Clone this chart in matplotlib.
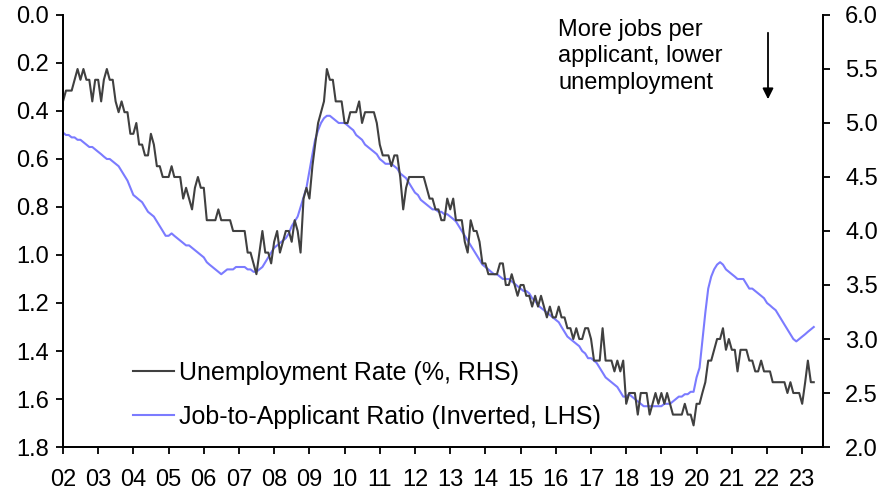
import numpy as np
import pandas as pd
import matplotlib
matplotlib.use("Agg")
import matplotlib.pyplot as plt

plt.rcParams['font.family'] = ['Liberation Sans', 'DejaVu Sans']

# monthly data, Jan 2002 - May 2023
unemployment = [
    5.2, 5.3, 5.3, 5.3, 5.4, 5.5, 5.4, 5.5, 5.4, 5.4, 5.2, 5.4,  # 2002
    5.4, 5.2, 5.4, 5.5, 5.4, 5.4, 5.2, 5.1, 5.2, 5.1, 5.1, 4.9,  # 2003
    4.9, 5.0, 4.8, 4.8, 4.7, 4.7, 4.9, 4.8, 4.6, 4.6, 4.5, 4.5,  # 2004
    4.5, 4.6, 4.5, 4.5, 4.5, 4.3, 4.4, 4.3, 4.2, 4.4, 4.5, 4.4,  # 2005
    4.4, 4.1, 4.1, 4.1, 4.1, 4.2, 4.1, 4.1, 4.1, 4.1, 4.0, 4.0,  # 2006
    4.0, 4.0, 4.0, 3.8, 3.8, 3.7, 3.6, 3.8, 4.0, 3.8, 3.8, 3.7,  # 2007
    3.9, 4.0, 3.8, 3.9, 4.0, 4.0, 3.9, 4.1, 4.0, 3.8, 4.3, 4.4,  # 2008
    4.3, 4.6, 4.8, 5.0, 5.1, 5.2, 5.5, 5.4, 5.4, 5.2, 5.2, 5.2,  # 2009
    5.0, 5.0, 5.1, 5.1, 5.1, 5.2, 5.0, 5.1, 5.1, 5.1, 5.1, 5.0,  # 2010
    4.8, 4.7, 4.7, 4.7, 4.6, 4.7, 4.7, 4.5, 4.2, 4.4, 4.5, 4.5,  # 2011
    4.5, 4.5, 4.5, 4.5, 4.4, 4.3, 4.3, 4.2, 4.2, 4.1, 4.1, 4.3,  # 2012
    4.2, 4.3, 4.1, 4.1, 4.1, 3.9, 3.8, 4.1, 4.0, 4.0, 3.9, 3.7,  # 2013
    3.7, 3.6, 3.6, 3.6, 3.6, 3.7, 3.7, 3.5, 3.5, 3.6, 3.5, 3.4,  # 2014
    3.5, 3.5, 3.4, 3.4, 3.3, 3.4, 3.3, 3.4, 3.3, 3.2, 3.3, 3.2,  # 2015
    3.2, 3.3, 3.2, 3.2, 3.1, 3.1, 3.0, 3.1, 3.0, 3.0, 3.1, 3.1,  # 2016
    3.0, 2.8, 2.8, 2.8, 3.1, 2.8, 2.8, 2.8, 2.7, 2.8, 2.7, 2.8,  # 2017
    2.4, 2.5, 2.5, 2.5, 2.3, 2.5, 2.5, 2.5, 2.3, 2.4, 2.5, 2.4,  # 2018
    2.5, 2.4, 2.5, 2.4, 2.3, 2.3, 2.3, 2.3, 2.4, 2.3, 2.3, 2.2,  # 2019
    2.4, 2.4, 2.5, 2.6, 2.8, 2.8, 2.9, 3.0, 3.0, 3.1, 2.9, 3.0,  # 2020
    2.9, 2.9, 2.7, 2.9, 2.9, 2.9, 2.8, 2.8, 2.7, 2.7, 2.8, 2.7,  # 2021
    2.7, 2.7, 2.6, 2.6, 2.6, 2.6, 2.6, 2.5, 2.6, 2.5, 2.5, 2.5,  # 2022
    2.4, 2.6, 2.8, 2.6, 2.6,                                     # 2023
]

job_ratio = [
    0.49, 0.50, 0.50, 0.51, 0.51, 0.52, 0.52, 0.53, 0.54, 0.55, 0.55, 0.56,  # 2002
    0.57, 0.58, 0.59, 0.60, 0.60, 0.61, 0.62, 0.63, 0.65, 0.67, 0.69, 0.72,  # 2003
    0.75, 0.76, 0.77, 0.78, 0.80, 0.82, 0.83, 0.84, 0.86, 0.88, 0.90, 0.92,  # 2004
    0.92, 0.91, 0.92, 0.93, 0.94, 0.95, 0.96, 0.96, 0.97, 0.98, 0.99, 1.00,  # 2005
    1.01, 1.03, 1.04, 1.05, 1.06, 1.07, 1.08, 1.07, 1.06, 1.06, 1.06, 1.05,  # 2006
    1.05, 1.05, 1.05, 1.06, 1.06, 1.07, 1.07, 1.06, 1.05, 1.03, 1.01, 0.99,  # 2007
    0.97, 0.96, 0.95, 0.94, 0.93, 0.91, 0.88, 0.86, 0.84, 0.80, 0.76, 0.72,  # 2008
    0.65, 0.58, 0.52, 0.48, 0.45, 0.43, 0.42, 0.42, 0.43, 0.44, 0.45, 0.45,  # 2009
    0.45, 0.46, 0.47, 0.48, 0.50, 0.51, 0.52, 0.54, 0.55, 0.56, 0.57, 0.58,  # 2010
    0.60, 0.61, 0.62, 0.62, 0.62, 0.63, 0.64, 0.66, 0.67, 0.68, 0.70, 0.72,  # 2011
    0.74, 0.75, 0.77, 0.78, 0.79, 0.80, 0.81, 0.81, 0.82, 0.82, 0.83, 0.83,  # 2012
    0.84, 0.85, 0.86, 0.88, 0.90, 0.92, 0.94, 0.96, 0.98, 1.00, 1.02, 1.04,  # 2013
    1.05, 1.06, 1.07, 1.08, 1.08, 1.09, 1.10, 1.10, 1.10, 1.11, 1.12, 1.13,  # 2014
    1.14, 1.15, 1.15, 1.16, 1.18, 1.19, 1.21, 1.22, 1.23, 1.24, 1.25, 1.26,  # 2015
    1.27, 1.28, 1.30, 1.32, 1.34, 1.35, 1.36, 1.37, 1.38, 1.40, 1.41, 1.43,  # 2016
    1.43, 1.44, 1.45, 1.47, 1.49, 1.51, 1.52, 1.53, 1.54, 1.55, 1.57, 1.59,  # 2017
    1.59, 1.58, 1.59, 1.60, 1.61, 1.62, 1.63, 1.63, 1.63, 1.63, 1.63, 1.63,  # 2018
    1.63, 1.62, 1.62, 1.62, 1.61, 1.60, 1.59, 1.59, 1.58, 1.58, 1.57, 1.57,  # 2019
    1.51, 1.47, 1.36, 1.24, 1.14, 1.09, 1.06, 1.04, 1.03, 1.04, 1.06, 1.07,  # 2020
    1.08, 1.09, 1.10, 1.10, 1.10, 1.12, 1.14, 1.14, 1.15, 1.16, 1.17, 1.18,  # 2021
    1.20, 1.21, 1.22, 1.23, 1.25, 1.27, 1.29, 1.31, 1.33, 1.35, 1.36, 1.35,  # 2022
    1.34, 1.33, 1.32, 1.31, 1.30,                                            # 2023
]

dates = pd.date_range("2002-01-01", periods=len(unemployment), freq="MS")
years = list(range(2002, 2024))
year_labels = [f"{y % 100:02d}" for y in years]

fig, ax = plt.subplots(figsize=(8.86, 4.98), dpi=100)
fig.subplots_adjust(left=0.0711, right=0.9289, bottom=0.1024, top=0.9699)
ax2 = ax.twinx()

blue_line, = ax.plot(dates, job_ratio, color="#7b7bff", lw=1.5,
                     label="Job-to-Applicant Ratio (Inverted, LHS)")
black_line, = ax2.plot(dates, unemployment, color="#404040", lw=1.5,
                       label="Unemployment Rate (%, RHS)")

ax.set_ylim(1.8, 0.0)
ax.set_yticks(np.arange(0, 1.81, 0.2))
ax.set_yticklabels([f"{v:.1f}" for v in np.arange(0, 1.81, 0.2)])
ax2.set_ylim(2.0, 6.0)
ax2.set_yticks(np.arange(2.0, 6.01, 0.5))
ax2.set_yticklabels([f"{v:.1f}" for v in np.arange(2.0, 6.01, 0.5)])

ax.set_xlim(pd.Timestamp("2002-01-01"), pd.Timestamp("2023-08-05"))
ax.set_xticks([pd.Timestamp(f"{y}-01-01") for y in years])
ax.set_xticklabels(year_labels)

for a in (ax, ax2):
    a.spines["top"].set_visible(False)
    for s in ("left", "right", "bottom"):
        a.spines[s].set_linewidth(1.3)
    a.tick_params(direction="out", length=5, width=1.3, labelsize=17)
ax.tick_params(axis="x", pad=11)
ax.tick_params(axis="y", pad=5)
ax2.tick_params(axis="y", pad=11)

ax2.legend(handles=[black_line, blue_line], loc="upper left",
           bbox_to_anchor=(0.092, 0.199), frameon=False, fontsize=18,
           handlelength=1.65, handletextpad=0.2, labelspacing=0.8,
           borderpad=0, borderaxespad=0)

fig.text(558 / 886, 1 - 19 / 498, "More jobs per\napplicant, lower\nunemployment",
         ha="left", va="top", fontsize=17, linespacing=1.25)
ax.annotate("", xy=(768 / 886, 1 - 102 / 498), xytext=(768 / 886, 1 - 30 / 498),
            xycoords="figure fraction", textcoords="figure fraction",
            arrowprops=dict(arrowstyle="-|>", color="black", lw=1.3,
                            mutation_scale=16))

fig.savefig("out.png", dpi=100)
